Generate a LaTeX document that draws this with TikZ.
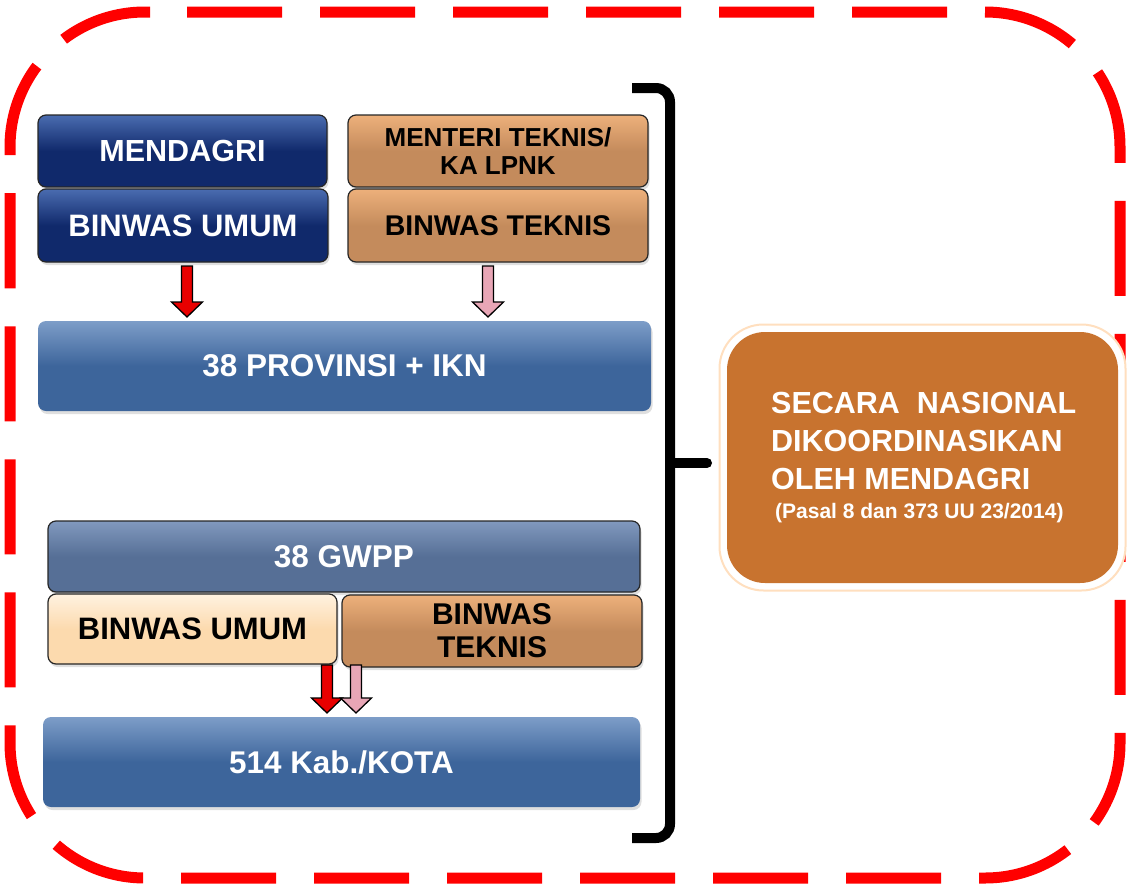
\documentclass[tikz,border=0pt]{standalone}
\usepackage{fontspec}
\setmainfont{Liberation Sans}
\usetikzlibrary{shadows,calc}
\definecolor{navyB}{HTML}{10296B}
\definecolor{navyL}{HTML}{4A6CB0}
\definecolor{tanB}{HTML}{C48B5C}
\definecolor{tanL}{HTML}{EDB07B}
\definecolor{steelB}{HTML}{3D659B}
\definecolor{steelL}{HTML}{7D9DC8}
\definecolor{grayB}{HTML}{566F96}
\definecolor{grayL}{HTML}{8199BE}
\definecolor{creamB}{HTML}{FCDAAE}
\definecolor{creamL}{HTML}{FFF2E0}
\definecolor{orangeB}{HTML}{C8732F}
\definecolor{pinkA}{HTML}{E8A6B6}
\definecolor{redA}{HTML}{E80000}
\definecolor{borderRed}{HTML}{FF0000}
\tikzset{
  box/.style={rounded corners=8pt, draw=black!85, line width=1.2pt, align=center,
    font=\bfseries, inner sep=0pt,
    drop shadow={opacity=0.25, shadow xshift=1.5pt, shadow yshift=-3pt}},
  navybox/.style={box, top color=navyL, bottom color=navyB, middle color=navyB, text=white},
  tanbox/.style={box, top color=tanL, bottom color=tanB, middle color=tanB, text=black},
  steelbox/.style={box, draw=none, top color=steelL, bottom color=steelB, middle color=steelB, text=white},
  graybox/.style={box, top color=grayL, bottom color=grayB, middle color=grayB, text=white},
  creambox/.style={box, top color=creamL, bottom color=creamB, middle color=creamB, text=black},
  blockarrow/.style={draw=black, line width=1.3pt, line join=miter},
}
\newcommand{\blkarr}[4]{%
  \draw[blockarrow, fill=#1] (#2-5.5,#3) -- (#2+5.5,#3) -- (#2+5.5,#4-15) -- (#2+15.5,#4-15)
    -- (#2,#4) -- (#2-15.5,#4-15) -- (#2-5.5,#4-15) -- cycle;}
\begin{document}
\begin{tikzpicture}[x=1pt,y=-1pt]
\useasboundingbox (0,0) rectangle (1127,894);
% dashed border
\draw[borderRed, line width=11pt, dash pattern=on 95pt off 38pt, rounded corners=135pt]
  (187,12) -- (1120,12) -- (1120,878) -- (10,878) -- (10,12) -- (150,12);
% top boxes
\node[navybox, minimum width=289, minimum height=72, font=\bfseries\fontsize{30.5}{32}\selectfont] (mendagri) at (182.5,151) {MENDAGRI};
\node[navybox, minimum width=290, minimum height=73, font=\bfseries\fontsize{31}{32}\selectfont] (binwasU1) at (183,225.5) {BINWAS UMUM};
\node[tanbox, minimum width=300, minimum height=72, font=\bfseries\fontsize{26}{28}\selectfont] (menteri) at (498,151) {MENTERI TEKNIS/\\KA LPNK};
\node[tanbox, minimum width=300, minimum height=73, font=\bfseries\fontsize{28.5}{32}\selectfont] (binwasT1) at (498,225.5) {BINWAS TEKNIS};
\node[steelbox, minimum width=613, minimum height=90, font=\bfseries\fontsize{31.5}{32}\selectfont] (prov) at (344.5,366) {38 PROVINSI + IKN};
% arrows top
\blkarr{redA}{187}{266}{317}
\blkarr{pinkA}{488}{266}{317}
% bottom group
\node[graybox, minimum width=592, minimum height=71, font=\bfseries\fontsize{31.5}{32}\selectfont] (gwpp) at (344,556.5) {38 GWPP};
\node[creambox, minimum width=289, minimum height=70, font=\bfseries\fontsize{31}{32}\selectfont] (binwasU2) at (192.5,629) {BINWAS UMUM};
\node[tanbox, minimum width=300, minimum height=72, font=\bfseries\fontsize{30}{33}\selectfont] (binwasT2) at (492,631) {BINWAS\\TEKNIS};
\node[steelbox, minimum width=597, minimum height=90, font=\bfseries\fontsize{31.4}{32}\selectfont] (kota) at (341.5,762) {514 Kab./KOTA};
\blkarr{redA}{327}{665}{713}
\blkarr{pinkA}{356}{665}{713}
% brace
\draw[line width=10pt, line cap=butt, rounded corners=14pt] (632,88) -- (670,88) -- (670,838) -- (632,838);
\coordinate (bracetip) at (707,463);
\draw[line width=10pt, line cap=round] (670,463) -- (bracetip);
% orange box
\node[draw=orange!25, line width=2pt, fill=white, rounded corners=44pt,
  minimum width=406, minimum height=266, inner sep=0pt] (halo) at (922.5,457.5) {};
\node[fill=orangeB, rounded corners=38pt, minimum width=391, minimum height=251, inner sep=0pt] (orange) at (922.5,457.5) {};
\node[anchor=north west, align=left, text=white, inner sep=0pt,
  font=\bfseries\fontsize{30.5}{38}\selectfont] (otext) at (771,392)
  {SECARA\ \ NASIONAL\\DIKOORDINASIKAN\\OLEH MENDAGRI\\[-9pt]
   \hspace*{4pt}{\fontsize{21}{24}\selectfont (Pasal 8 dan 373 UU 23/2014)}};
\end{tikzpicture}
\end{document}
